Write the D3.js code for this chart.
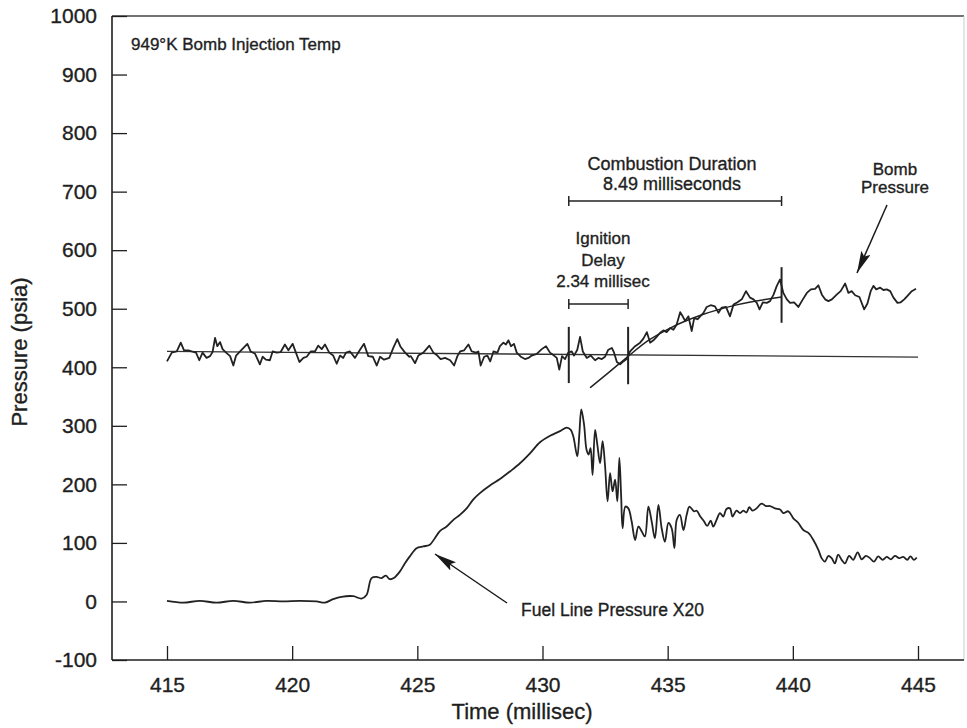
<!DOCTYPE html>
<html>
<head>
<meta charset="utf-8">
<script src="https://cdn.jsdelivr.net/npm/d3@7"></script>
<style>
  body { margin: 0; background: #fff; }
  svg text { font-family: "Liberation Sans", Arial, sans-serif; fill: #1f1f1f; stroke: #1f1f1f; stroke-width: 0.35px; }
</style>
</head>
<body>
<svg id="chart" width="967" height="728"></svg>
<script>
// ---- data ----
const xTicks = [415, 420, 425, 430, 435, 440, 445];
const yTicks = [-100, 0, 100, 200, 300, 400, 500, 600, 700, 800, 900, 1000];

// bomb pressure trace [time ms, psia]
const bombPressure = [
  [415.0, 410], [415.19, 425], [415.39, 427], [415.55, 442], [415.68, 429], [415.85, 429], [415.98, 427],
  [416.16, 425], [416.29, 412], [416.42, 425], [416.58, 416], [416.72, 419], [416.82, 426], [416.92, 450],
  [417.01, 436], [417.12, 443], [417.22, 431], [417.36, 425], [417.52, 419], [417.65, 403], [417.76, 420],
  [417.92, 427], [418.21, 440], [418.34, 427], [418.52, 423], [418.71, 405], [418.82, 418], [418.95, 413],
  [419.11, 412], [419.22, 427], [419.38, 425], [419.54, 426], [419.71, 439], [419.85, 429], [420.02, 440],
  [420.15, 425], [420.29, 409], [420.45, 416], [420.58, 418], [420.74, 427], [420.91, 427], [421.04, 437],
  [421.18, 431], [421.31, 439], [421.48, 425], [421.64, 420], [421.78, 406], [421.91, 420], [422.04, 416],
  [422.15, 425], [422.31, 427], [422.51, 416], [422.71, 430], [422.87, 440], [423.04, 419], [423.22, 418],
  [423.38, 403], [423.51, 418], [423.67, 413], [423.88, 416], [424.04, 433], [424.20, 448], [424.33, 435],
  [424.51, 425], [424.68, 418], [424.74, 419], [424.91, 407], [425.04, 420], [425.24, 425], [425.48, 437],
  [425.64, 425], [425.80, 420], [425.93, 414], [426.11, 416], [426.31, 412], [426.47, 403], [426.60, 419],
  [426.71, 427], [426.87, 429], [427.04, 439], [427.17, 427], [427.35, 425], [427.44, 427], [427.53, 403],
  [427.67, 418], [427.80, 420], [427.91, 410], [428.04, 427], [428.20, 425], [428.30, 436], [428.44, 442],
  [428.54, 439], [428.64, 446], [428.74, 436], [428.86, 440], [428.97, 425], [429.13, 418], [429.30, 414],
  [429.44, 416], [429.57, 420], [429.77, 423], [429.97, 431], [430.14, 436], [430.30, 425], [430.46, 420],
  [430.57, 416], [430.67, 396], [430.78, 419], [430.90, 414], [431.03, 425], [431.17, 427], [431.26, 420],
  [431.39, 430], [431.50, 452], [431.61, 427], [431.77, 416], [431.93, 420], [432.10, 412], [432.23, 416],
  [432.37, 414], [432.50, 418], [432.63, 430], [432.77, 433], [432.86, 425], [432.97, 409], [433.10, 405],
  [433.23, 410], [433.36, 414], [433.50, 427], [433.70, 436], [433.90, 442], [434.03, 449], [434.17, 460],
  [434.30, 442], [434.43, 446], [434.56, 452], [434.70, 459], [434.83, 463], [434.96, 460], [435.10, 467],
  [435.23, 464], [435.36, 473], [435.50, 494], [435.60, 487], [435.70, 479], [435.83, 487], [435.96, 462],
  [436.06, 484], [436.19, 482], [436.30, 487], [436.43, 493], [436.56, 503], [436.72, 506], [436.89, 504],
  [437.03, 493], [437.16, 502], [437.33, 503], [437.49, 487], [437.63, 507], [437.79, 511], [437.96, 516],
  [438.13, 530], [438.29, 519], [438.43, 516], [438.56, 510], [438.67, 499], [438.80, 511], [438.96, 510],
  [439.09, 513], [439.23, 524], [439.36, 539], [439.49, 550], [439.62, 527], [439.76, 516], [439.89, 510],
  [440.05, 511], [440.22, 503], [440.40, 516], [440.56, 527], [440.72, 533], [440.89, 534], [441.02, 540],
  [441.16, 524], [441.29, 516], [441.42, 513], [441.56, 516], [441.75, 524], [441.91, 530], [442.09, 543],
  [442.22, 527], [442.35, 530], [442.49, 523], [442.66, 520], [442.85, 499], [442.98, 509], [443.11, 530],
  [443.22, 539], [443.33, 533], [443.49, 536], [443.62, 532], [443.75, 533], [443.89, 530], [444.02, 519],
  [444.18, 510], [444.31, 511], [444.45, 516], [444.58, 522], [444.75, 530], [444.92, 534]
];

// fuel line pressure x20 [time ms, psia]
const fuelPressure = [
  [415.0, 1], [415.65, -2], [416.31, 1], [416.98, -2], [417.65, 1], [418.31, -2], [418.98, 1], [419.64, 0],
  [420.31, 1], [420.97, 0], [421.31, -2], [421.64, 4], [421.97, 8], [422.44, 9], [422.77, 5], [422.97, 11],
  [423.17, 40], [423.37, 42], [423.57, 40], [423.74, 44], [423.90, 38], [424.06, 40], [424.30, 51],
  [424.50, 65], [424.70, 77], [424.97, 91], [425.24, 94], [425.50, 97], [425.70, 108], [425.90, 120],
  [426.17, 128], [426.43, 139], [426.70, 148], [426.97, 159], [427.23, 174], [427.50, 185], [427.90, 198],
  [428.30, 209], [428.70, 222], [429.10, 236], [429.50, 253], [429.90, 272], [430.30, 283], [430.70, 291],
  [430.97, 297], [431.13, 293], [431.23, 282], [431.39, 248], [431.47, 285], [431.55, 328], [431.66, 302],
  [431.76, 259], [431.84, 251], [431.92, 262], [432.00, 216], [432.10, 293], [432.19, 268], [432.30, 236],
  [432.40, 274], [432.50, 231], [432.60, 171], [432.70, 219], [432.80, 188], [432.90, 208], [432.99, 171],
  [433.07, 245], [433.14, 182], [433.20, 125], [433.31, 162], [433.43, 159], [433.56, 137], [433.70, 105],
  [433.83, 128], [433.96, 120], [434.09, 111], [434.23, 162], [434.36, 137], [434.49, 108], [434.63, 165],
  [434.76, 125], [434.89, 102], [435.03, 134], [435.16, 125], [435.27, 91], [435.36, 139], [435.49, 148],
  [435.63, 122], [435.76, 148], [435.87, 162], [436.05, 154], [436.16, 155], [436.29, 146], [436.45, 137],
  [436.58, 129], [436.72, 138], [436.82, 128], [436.96, 140], [437.09, 151], [437.22, 145], [437.35, 158],
  [437.49, 159], [437.59, 145], [437.75, 155], [437.89, 151], [438.02, 155], [438.15, 152], [438.26, 161],
  [438.39, 155], [438.55, 159], [438.75, 167], [438.93, 163], [439.09, 163], [439.29, 159], [439.49, 157],
  [439.62, 151], [439.82, 154], [440.02, 142], [440.22, 134], [440.42, 122], [440.62, 117], [440.82, 105],
  [441.02, 88], [441.15, 74], [441.28, 68], [441.42, 78], [441.55, 74], [441.68, 65], [441.81, 80],
  [441.95, 71], [442.08, 65], [442.25, 78], [442.41, 71], [442.59, 84], [442.75, 72], [442.92, 78],
  [443.08, 74], [443.24, 68], [443.41, 77], [443.59, 71], [443.75, 76], [443.92, 72], [444.08, 78],
  [444.25, 74], [444.41, 76], [444.57, 71], [444.70, 77], [444.84, 71], [444.95, 75]
];

// pre-ignition baseline and post-ignition fit
const baseLine = [[415, 427], [445, 417.5]];
const riseFit = [[431.9, 365], [432.7, 393], [433.4, 418], [434.2, 445], [435.1, 467],
                 [436.4, 490], [437.8, 507], [439.55, 520]];

// event markers [time, low psia, high psia]
const markers = [[431.05, 373, 469], [433.42, 371, 469], [439.55, 476, 571]];
// brackets [t0, t1, psia]
const brackets = [[431.05, 439.55, 684], [431.05, 433.42, 508]];

// ---- layout ----
let frame = {left: 112, top: 16, right: 964, bottom: 660};

let x = d3.scaleLinear().domain([415, 445]).range([167, 918]);
let y = d3.scaleLinear().domain([-100, 1000]).range([frame.bottom, frame.top]);

let svg = d3.select("#chart");
let ink = "#1f1f1f";

// frame
svg.append("line").attr("x1", frame.left).attr("x2", frame.right)
    .attr("y1", frame.top).attr("y2", frame.top)
    .attr("stroke", "#444").attr("stroke-width", 1.4);
svg.append("line").attr("x1", frame.right).attr("x2", frame.right)
    .attr("y1", frame.top).attr("y2", frame.bottom)
    .attr("stroke", "#ccc").attr("stroke-width", 1);

// y axis (ticks point inward)
let yAxis = d3.axisLeft(y).tickValues(yTicks).tickSize(-15).tickPadding(15)
    .tickFormat(d => String(d));
let gy = svg.append("g")
    .attr("transform", "translate(" + frame.left + ",0)")
    .call(yAxis);
gy.select(".domain").remove();
gy.selectAll(".tick line").attr("stroke", ink).attr("stroke-width", 1.3);
gy.selectAll(".tick text").style("font-size", "21px").attr("fill", ink);
svg.append("line").attr("x1", frame.left).attr("x2", frame.left)
    .attr("y1", frame.top).attr("y2", frame.bottom)
    .attr("stroke", ink).attr("stroke-width", 1.6);

// x axis
let xAxis = d3.axisBottom(x).tickValues(xTicks).tickSize(-14).tickPadding(17)
    .tickFormat(d => String(d));
let gx = svg.append("g")
    .attr("transform", "translate(0," + frame.bottom + ")")
    .call(xAxis);
gx.select(".domain").remove();
gx.selectAll(".tick line").attr("stroke", ink).attr("stroke-width", 1.3);
gx.selectAll(".tick text").style("font-size", "21px").attr("fill", ink);
svg.append("line").attr("x1", frame.left).attr("x2", frame.right)
    .attr("y1", frame.bottom).attr("y2", frame.bottom)
    .attr("stroke", ink).attr("stroke-width", 1.6);

// axis titles
svg.append("text")
    .attr("x", 522).attr("y", 719)
    .attr("text-anchor", "middle")
    .style("font-size", "22px")
    .text("Time (millisec)");
svg.append("text")
    .attr("transform", "translate(27,352) rotate(-90)")
    .attr("text-anchor", "middle")
    .style("font-size", "22px")
    .text("Pressure (psia)");

// ---- traces ----
let line = d3.line().x(d => x(d[0])).y(d => y(d[1]));

svg.append("path").datum(baseLine)
    .attr("d", line).attr("fill", "none")
    .attr("stroke", "#333").attr("stroke-width", 1.3);

svg.append("path").datum(riseFit)
    .attr("d", line.curve(d3.curveMonotoneX)).attr("fill", "none")
    .attr("stroke", "#222").attr("stroke-width", 1.5);
line.curve(d3.curveLinear);

svg.append("path").datum(bombPressure)
    .attr("d", line).attr("fill", "none")
    .attr("stroke", "#222").attr("stroke-width", 1.8)
    .attr("stroke-linejoin", "round");

svg.append("path").datum(fuelPressure)
    .attr("d", d3.line().x(d => x(d[0])).y(d => y(d[1])).curve(d3.curveCatmullRom.alpha(0.5)))
    .attr("fill", "none")
    .attr("stroke", "#222").attr("stroke-width", 1.8)
    .attr("stroke-linejoin", "round");

// event markers
svg.selectAll(".marker").data(markers).enter().append("line")
    .attr("class", "marker")
    .attr("x1", d => x(d[0])).attr("x2", d => x(d[0]))
    .attr("y1", d => y(d[1])).attr("y2", d => y(d[2]))
    .attr("stroke", "#222").attr("stroke-width", 2);

// brackets with end caps
brackets.forEach(b => {
    let g = svg.append("g").attr("stroke", "#222").attr("stroke-width", 1.5);
    g.append("line").attr("x1", x(b[0])).attr("x2", x(b[1]))
        .attr("y1", y(b[2])).attr("y2", y(b[2]));
    [b[0], b[1]].forEach(t => {
        g.append("line").attr("x1", x(t)).attr("x2", x(t))
            .attr("y1", y(b[2]) - 5).attr("y2", y(b[2]) + 5);
    });
});

// ---- annotations ----
function label(lines, cx, y0, step, size) {
    lines.forEach((s, i) => {
        svg.append("text")
            .attr("x", cx).attr("y", y0 + i * step)
            .attr("text-anchor", "middle")
            .style("font-size", size + "px")
            .text(s);
    });
}

svg.append("text")
    .attr("x", 131).attr("y", 50)
    .style("font-size", "17px")
    .text("949°K Bomb Injection Temp");

label(["Combustion Duration", "8.49 milliseconds"], 672, 170, 20, 18);
label(["Ignition", "Delay", "2.34 millisec"], 603, 244, 21.5, 17);
label(["Bomb", "Pressure"], 895, 175, 17.5, 17);

svg.append("text")
    .attr("x", 521).attr("y", 616)
    .style("font-size", "17.5px")
    .text("Fuel Line Pressure X20");

// arrows
svg.append("defs").append("marker")
    .attr("id", "head")
    .attr("markerUnits", "userSpaceOnUse")
    .attr("markerWidth", 24).attr("markerHeight", 12)
    .attr("refX", 22).attr("refY", 5)
    .attr("orient", "auto")
    .append("path")
    .attr("d", "M0,0 L22,5 L0,10 L4,5 Z")
    .attr("fill", "#1a1a1a");

svg.append("line")
    .attr("x1", 887).attr("y1", 205).attr("x2", 857).attr("y2", 273)
    .attr("stroke", "#1a1a1a").attr("stroke-width", 1.5)
    .attr("marker-end", "url(#head)");
svg.append("line")
    .attr("x1", 507).attr("y1", 603).attr("x2", 435).attr("y2", 554)
    .attr("stroke", "#1a1a1a").attr("stroke-width", 1.5)
    .attr("marker-end", "url(#head)");
</script>
</body>
</html>
